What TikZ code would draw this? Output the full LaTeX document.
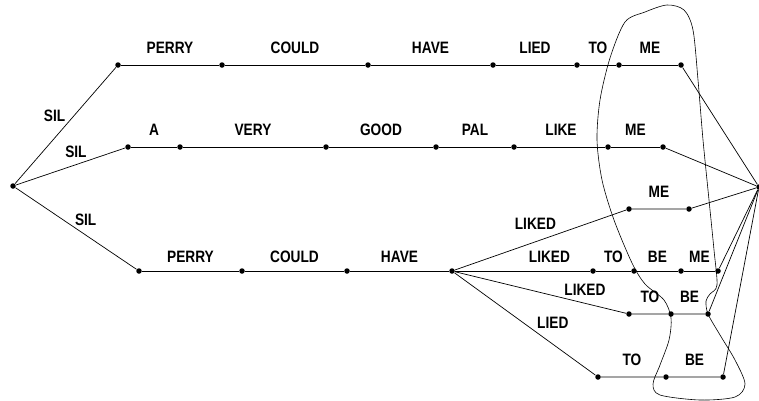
\documentclass[tikz,border=0pt]{standalone}
\usepackage{fontspec}
\setmainfont{Liberation Sans}[FakeStretch=0.83]

\tikzset{
  dot/.style={circle, fill=black, inner sep=0pt, minimum size=5.5pt},
  word/.style={font=\fontsize{16.5}{18}\selectfont\bfseries, inner sep=0pt},
  wd/.style={word, midway, above=11pt},
  wdlow/.style={word, midway, above=8pt}
}

\begin{document}
\begin{tikzpicture}[x=1pt, y=-1pt, line width=0.7pt]
  \useasboundingbox (0,0) rectangle (759,400);

  % start and end of the lattice
  \node[dot] (s) at (13,186) {};
  \node[dot] (e) at (759,187) {};

  % first row
  \node[dot] (a1) at (118,65) {};
  \node[dot] (a2) at (222,65) {};
  \node[dot] (a3) at (368,65) {};
  \node[dot] (a4) at (493,65) {};
  \node[dot] (a5) at (577,65) {};
  \node[dot] (a6) at (619,65) {};
  \node[dot] (a7) at (681,65) {};

  % second row
  \node[dot] (b1) at (128,147) {};
  \node[dot] (b2) at (180,147) {};
  \node[dot] (b3) at (326,147) {};
  \node[dot] (b4) at (436,147) {};
  \node[dot] (b5) at (514,147) {};
  \node[dot] (b6) at (608,147) {};
  \node[dot] (b7) at (663,147) {};

  % third row
  \node[dot] (c1) at (139,271) {};
  \node[dot] (c2) at (242,271) {};
  \node[dot] (c3) at (347,271) {};
  \node[dot] (c4) at (452,271) {};

  % branches after HAVE
  \node[dot] (d1) at (629,209) {};
  \node[dot] (d2) at (689,209) {};
  \node[dot] (f1) at (593,271) {};
  \node[dot] (f2) at (634,271) {};
  \node[dot] (f3) at (681,271) {};
  \node[dot] (f4) at (718,271) {};
  \node[dot] (g1) at (629,314) {};
  \node[dot] (g2) at (671,314) {};
  \node[dot] (g3) at (708,314) {};
  \node[dot] (h1) at (598,377) {};
  \node[dot] (h2) at (666,377) {};
  \node[dot] (h3) at (723,377) {};

  % SIL arcs
  \draw (s) -- node[word, pos=0.58, left=8pt] {SIL} (a1);
  \draw (s) -- node[word, pos=0.55, above=7pt] {SIL} (b1);
  \draw (s) -- node[word, pos=0.58, above=9pt] {SIL} (c1);

  % words
  \draw (a1) -- node[wd] {PERRY} (a2) -- node[wd] {COULD} (a3)
    -- node[wd] {HAVE} (a4) -- node[wd] {LIED} (a5) -- node[wd] {TO} (a6)
    -- node[wd] {ME} (a7);
  \draw (b1) -- node[wd] {A} (b2) -- node[wd] {VERY} (b3)
    -- node[wd] {GOOD} (b4) -- node[wd] {PAL} (b5) -- node[wd] {LIKE} (b6)
    -- node[wd] {ME} (b7);
  \draw (c1) -- node[wdlow] {PERRY} (c2) -- node[wdlow] {COULD} (c3)
    -- node[wdlow] {HAVE} (c4);

  \draw (c4) -- node[word, pos=0.47, above=12pt] {LIKED} (d1)
    -- node[wd] {ME} (d2);
  \draw (c4) -- node[word, pos=0.7, above=8pt] {LIKED} (f1)
    -- node[wdlow] {TO} (f2) -- node[wdlow] {BE} (f3) -- node[wdlow] {ME} (f4);
  \draw (c4) -- node[word, pos=0.76, above=7pt] {LIKED} (g1)
    -- node[wd] {TO} (g2) -- node[wd] {BE} (g3);
  \draw (c4) -- node[word, pos=0.57, above right=2pt] {LIED} (h1)
    -- node[wd] {TO} (h2) -- node[wd] {BE} (h3);

  % into the end
  \foreach \n in {a7, b7, d2, f4, g3, h3}
    \draw (\n) -- (e);

  % outline round the region
  \draw[line width=0.6pt] plot[smooth cycle, tension=0.5] coordinates {
    (625,22) (645,12) (667,5) (684,10) (693,30) (698,80) (703,140)
    (709,200) (714,250) (717,285) (710,294) (706,301) (708,314)
    (720,335) (735,360) (745,384) (735,397) (700,400) (660,395)
    (653,384) (660,365) (669,340) (671,318) (664,300) (645,284)
    (632,263) (614,220) (602,180) (597,140) (600,100) (610,58) };
\end{tikzpicture}
\end{document}
